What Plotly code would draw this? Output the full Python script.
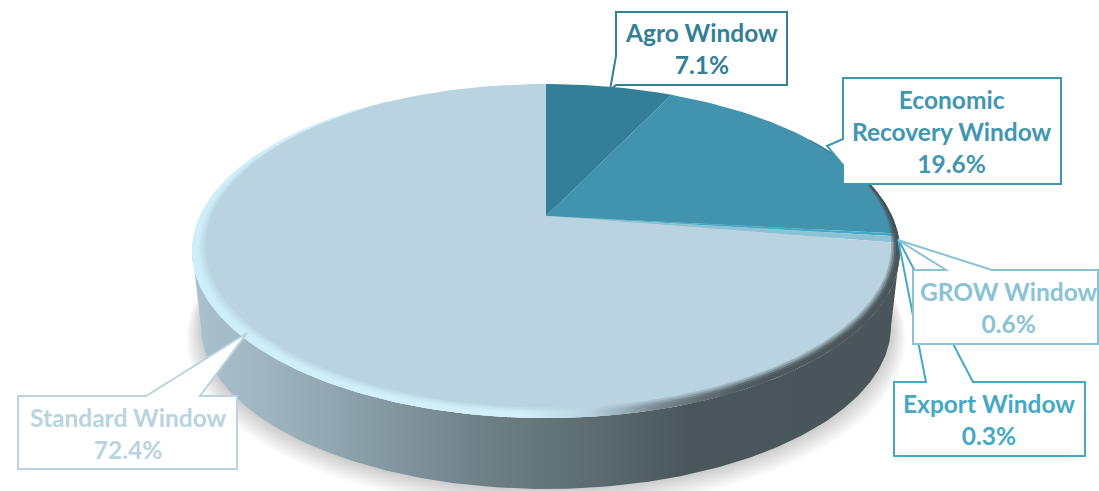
import numpy as np
import plotly.graph_objects as go

categories = ["Agro Window", "Economic<br>Recovery Window", "Export Window", "GROW Window", "Standard Window"]
shares = [7.1, 19.6, 0.3, 0.6, 72.4]
slice_colors = ["#337f97", "#4193ae", "#45a9c6", "#8bc2d5", "#b9d4e0"]
label_colors = ["#337f97", "#4196b1", "#45a9c6", "#8ac2d6", "#b9d4e0"]

W, H = 1099, 491
AX, AY = 546.0, 216.0      # projected pie centre
A, B, K = 346.0, 159.7, 0.2096  # projection of the disc
DEPTH_Y, DEPTH_S = 76.0, 0.975  # extrusion downwards


def rim(theta, r=1.0):
    """theta clockwise from the far side of the disc, radians."""
    u, v = r * np.sin(theta), r * np.cos(theta)
    w = 1 + K * v
    return AX + A * u / w, AY - B * v / w


def bottom(theta, grow=0.0, dy=0.0):
    x, y = rim(theta)
    s = DEPTH_S + grow
    return AX + (x - AX) * s, AY + DEPTH_Y + (y - AY) * s + dy


fig = go.Figure()


def poly(x, y, color=None, gradient=None):
    kw = dict(x=np.round(x, 2), y=np.round(y, 2), mode="lines", fill="toself", hoverinfo="skip",
              showlegend=False, line=dict(width=0))
    if gradient is not None:
        kw["fillgradient"] = gradient
        kw["fillcolor"] = None
    else:
        kw["fillcolor"] = color
    fig.add_trace(go.Scatter(**kw))


ALL = np.linspace(0, 2 * np.pi, 361)

# soft shadow under the disc
for k in range(12, 0, -1):
    x, y = bottom(ALL, grow=0.0035 * k, dy=1.0 * k)
    poly(x, y, color="rgba(60,60,60,0.018)")

# side wall, between the two silhouette tangents of the disc
wall = dict(type="horizontal", start=192, stop=900, colorscale=[
    [0.0, "#aac2ce"], [0.1, "#9fb6c2"], [0.22, "#8da2ac"], [0.41, "#6f8087"],
    [0.58, "#5a6a70"], [0.70, "#4b565b"], [1.0, "#4a5559"]])
t0 = np.arccos(-K)
arc = np.linspace(t0, 2 * np.pi - t0, 240)
xt, yt = rim(arc)
xb, yb = bottom(arc)
poly(np.r_[xt, xb[::-1]], np.r_[yt, yb[::-1]], gradient=wall)

# top face, one wedge per share
edges = np.cumsum([0] + shares) / sum(shares) * 2 * np.pi
for i, color in enumerate(slice_colors):
    t = np.linspace(edges[i], edges[i + 1], max(3, int(shares[i] * 4)))
    x, y = rim(t)
    poly(np.r_[AX, x, AX], np.r_[AY, y, AY], color=color)

# bevel around the rim: bright on the left, dark on the right
for width, alpha in [(0.042, 0.30), (0.034, 0.45), (0.026, 0.7), (0.018, 1.0)]:
    t = np.radians(np.linspace(70, 325, 300))
    taper = np.clip(np.sin((t - np.radians(70)) / np.radians(255) * np.pi), 0, 1) ** 0.6
    xo, yo = rim(t)
    xi, yi = rim(t, 1 - width * taper)
    grad = dict(type="horizontal", start=192, stop=900, colorscale=[
        [0.0, f"rgba(205,238,250,{alpha})"], [0.46, f"rgba(212,240,250,{alpha})"],
        [0.56, f"rgba(185,212,224,{alpha})"], [0.66, f"rgba(120,135,143,{alpha})"],
        [0.78, f"rgba(78,90,95,{alpha})"], [1.0, f"rgba(74,85,89,{alpha})"]])
    poly(np.r_[xo, xi[::-1]], np.r_[yo, yi[::-1]], gradient=grad)

# thin dark edge on the far right
t = np.radians(np.linspace(58, 100, 60))
xo, yo = rim(t)
xi, yi = rim(t, 0.995)
poly(np.r_[xo, xi[::-1]], np.r_[yo, yi[::-1]], color="rgba(45,75,90,0.45)")

# callouts
callouts = [
    ("M616,12 L787,12 L787,85 L616,85 L610,90 L616,56 Z", 0),
    ("M843,78 L1061,78 L1061,184 L843,184 L843,165 L827,146 L843,139 Z", 1),
    ("M894,382 L926,382 L898,239 L973,382 L1085,382 L1085,456 L894,456 Z", 2),
    ("M913,270 L946,270 L898,240 L992,270 L1098,270 L1098,344 L913,344 Z", 3),
    ("M18,396 L146,396 L247,333 L200,396 L237,396 L237,469 L18,469 Z", 4),
]
shapes = [dict(type="path", path=p, xref="x", yref="y", fillcolor="white",
               line=dict(color=label_colors[i], width=2), layer="above")
          for p, i in callouts]

label_pos = [(701, 48), (952, 131), (989, 419), (1009, 307), (128, 433)]
annotations = []
for i, (lx, ly) in enumerate(label_pos):
    annotations.append(dict(
        x=lx, y=ly, xref="x", yref="y", showarrow=False, align="center",
        text=f"<b>{categories[i]}<br>{shares[i]}%</b>",
        font=dict(family="Lato", size=24.5, color=label_colors[i])))

fig.update_layout(
    width=W, height=H, margin=dict(l=0, r=0, t=0, b=0),
    paper_bgcolor="white", plot_bgcolor="white", showlegend=False,
    xaxis=dict(range=[0, W], visible=False, fixedrange=True),
    yaxis=dict(range=[H, 0], visible=False, fixedrange=True),
    shapes=shapes, annotations=annotations,
)
fig.write_html("out.html", config=dict(displayModeBar=False),
               post_script="document.body.style.margin='0';document.body.style.overflow='hidden';")
